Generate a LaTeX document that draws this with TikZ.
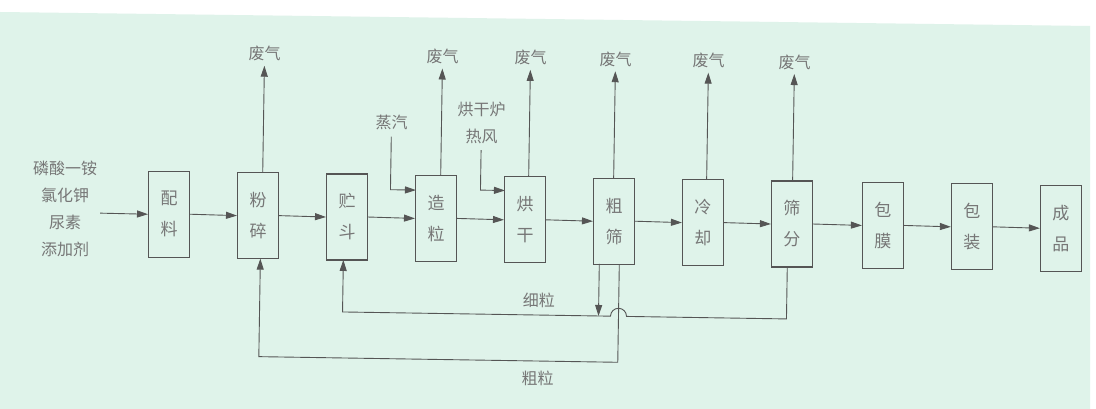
\documentclass[tikz,border=0pt]{standalone}
\usepackage{fontspec}
\setmainfont{Noto Sans CJK SC}
\usetikzlibrary{arrows.meta}
\definecolor{bg}{HTML}{DFF3EA}
\definecolor{ln}{HTML}{555555}
\definecolor{tx}{HTML}{767676}
\begin{document}
\begin{tikzpicture}[x=1pt,y=-1pt,
  proc/.style={draw=ln, line width=1.1pt, minimum width=41pt, minimum height=86pt,
    inner sep=0pt, text=tx, font=\fontsize{17}{31}\selectfont, align=center},
  lbl/.style={text=tx, font=\fontsize{16}{27}\selectfont, align=center, inner sep=0pt},
  flow/.style={draw=ln, line width=0.9pt, -{Triangle[length=11pt,width=7pt]}},
  pipe/.style={draw=ln, line width=0.9pt}]
\useasboundingbox (0,0) rectangle (1096,409);
\fill[white] (0,0) rectangle (1096,409);
\fill[bg] (0,12) -- (1090,26) -- (1090,409) -- (0,409) -- cycle;
\begin{scope}[rotate around={-0.9:(600,221)}]
% process boxes
\node[proc] (peiliao) at (169,221) {配\\料};
\node[proc] (fensui)  at (258,221) {粉\\碎};
\node[proc] (zhudou)  at (347,221) {贮\\斗};
\node[proc] (zaoli)   at (436,221) {造\\粒};
\node[proc] (honggan) at (525,221) {烘\\干};
\node[proc] (cushai)  at (614,221) {粗\\筛};
\node[proc] (lengque) at (703,221) {冷\\却};
\node[proc] (shaifen) at (792,221) {筛\\分};
\node[proc] (baomo)   at (883,221) {包\\膜};
\node[proc] (baozhuang) at (972,221) {包\\装};
\node[proc] (chengpin) at (1061,221) {成\\品};
% input
\node[lbl] (inp) at (65,217) {磷酸一铵\\氯化钾\\尿素\\添加剂};
\coordinate (instart) at (100,221);
\draw[flow] (instart) -- (peiliao.west);
% main chain
\foreach \a/\b in {peiliao/fensui, fensui/zhudou, zhudou/zaoli, zaoli/honggan,
  honggan/cushai, cushai/lengque, lengque/shaifen, shaifen/baomo,
  baomo/baozhuang, baozhuang/chengpin}
  \draw[flow] (\a.east) -- (\b.west);
% exhaust
\foreach \n/\x in {fensui/262, zaoli/440, honggan/528, cushai/613, lengque/706, shaifen/792}{
  \node[lbl] (w\n) at (\x,59) {废气};
  \coordinate (b\n) at (\x,178);
  \coordinate (t\n) at (\x,71);
  \draw[flow] (b\n) -- (t\n);
}
% steam
\node[lbl] (steam) at (390,126) {蒸汽};
\coordinate (steamtop) at (390,140);
\coordinate (zlin) at (415.5,193);
\draw[flow] (steamtop) |- (zlin);
% hot air
\node[lbl] (hot) at (480,125) {烘干炉\\热风};
\coordinate (hottop) at (480,152);
\coordinate (hgin) at (504.5,192);
\draw[flow] (hottop) |- (hgin);
% fine particles loop
\coordinate (sfb) at (788,264);
\coordinate (sfc) at (788,316);
\coordinate (hr) at (628,316);
\coordinate (zdc) at (344,316);
\coordinate (zdb) at (344,264);
\draw[flow] (sfb) -- (sfc) -- (hr) arc[start angle=0, end angle=-180, radius=8] -- (zdc) -- (zdb);
\coordinate (csb1) at (600,264);
\coordinate (csd) at (600,316);
\draw[flow] (csb1) -- (csd);
\node[lbl] (xili) at (540,301) {细粒};
% coarse particles loop
\coordinate (csb2) at (620,264);
\coordinate (csc) at (620,362);
\coordinate (fsc) at (261,362);
\coordinate (fsb) at (261,264);
\draw[flow] (csb2) -- (csc) -- (fsc) -- (fsb);
\node[lbl] (culi) at (540,379) {粗粒};
\end{scope}
\end{tikzpicture}
\end{document}
